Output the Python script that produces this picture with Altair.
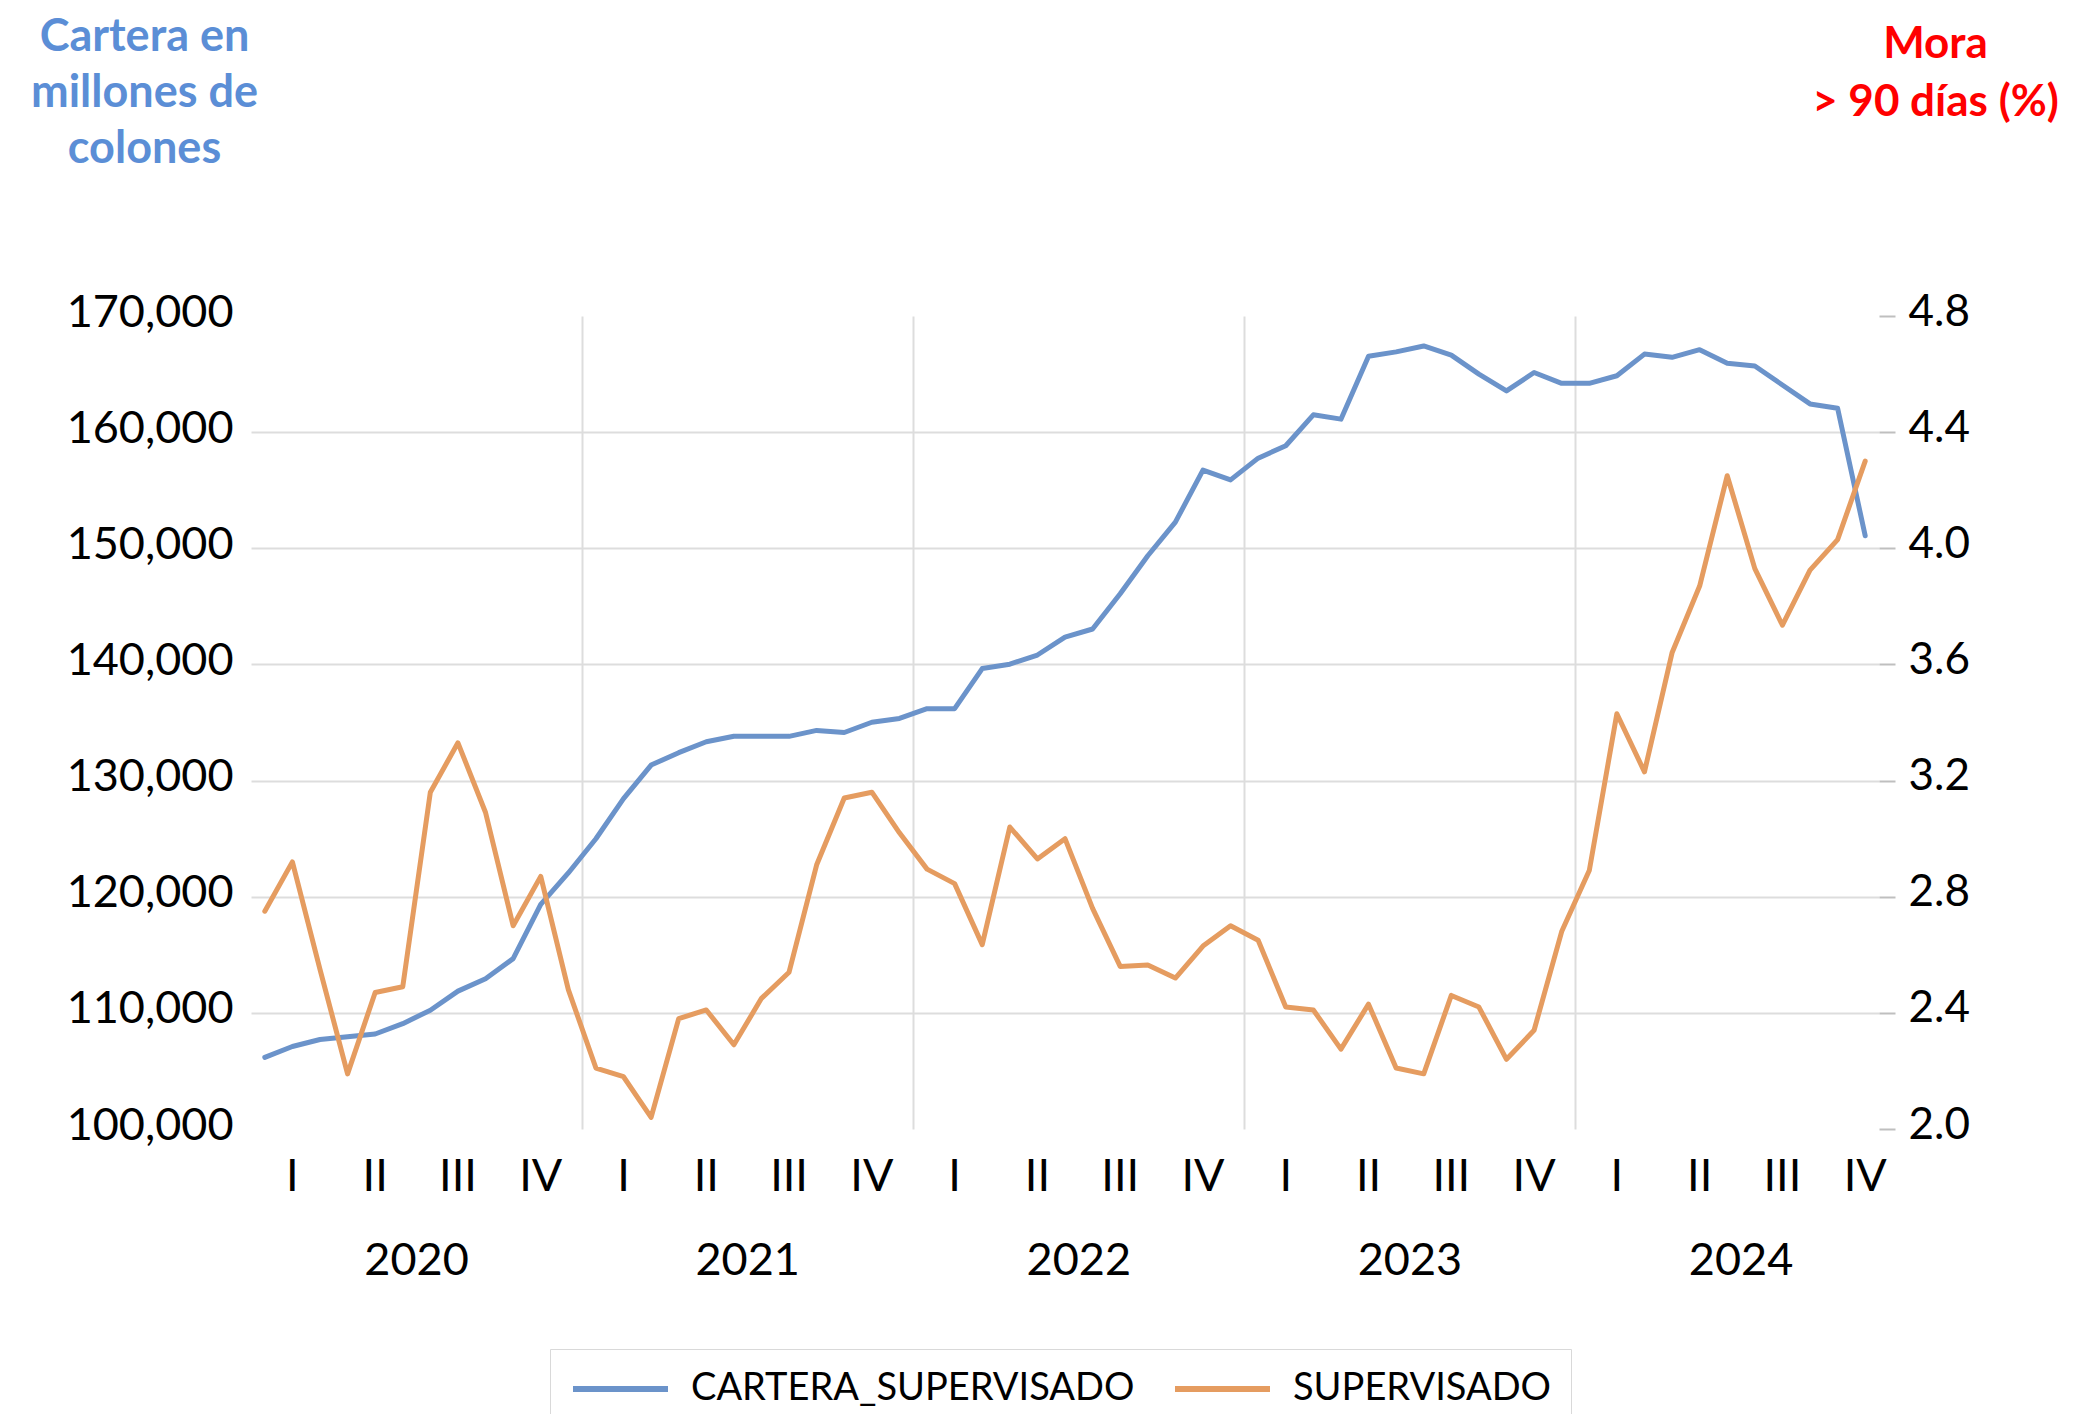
import altair as alt
import pandas as pd

# ---------------- data ----------------
series_names = ["CARTERA_SUPERVISADO", "SUPERVISADO"]
series_colors = ["#6B93CA", "#E59C60"]

# monthly values, Jan 2020 - Nov 2024
cartera = [
    106170, 107100, 107710, 107950, 108180, 109070, 110230, 111870, 112940, 114670, 119340, 122045,
    124990, 128440, 131335, 132400, 133340, 133810, 133810, 133810, 134320, 134140, 135020, 135350,
    136190, 136190, 139645, 140020, 140810, 142350, 143050, 146090, 149360, 152250, 156730, 155890,
    157760, 158830, 161490, 161120, 166540, 166910, 167420, 166630, 165000, 163550, 165135, 164200,
    164200, 164855, 166720, 166440, 167100, 165930, 165700, 164060, 162430, 162050, 151080,
]
mora = [
    2.75, 2.92, 2.55, 2.19, 2.47, 2.49, 3.16, 3.33, 3.09, 2.70, 2.87, 2.48,
    2.21, 2.18, 2.04, 2.38, 2.41, 2.29, 2.45, 2.54, 2.91, 3.14, 3.16, 3.02,
    2.895, 2.845, 2.635, 3.04, 2.93, 3.00, 2.76, 2.56, 2.565, 2.52, 2.63, 2.70,
    2.65, 2.42, 2.41, 2.275, 2.43, 2.21, 2.19, 2.46, 2.42, 2.24, 2.34, 2.68,
    2.89, 3.43, 3.23, 3.64, 3.87, 4.25, 3.93, 3.735, 3.925, 4.03, 4.30,
]
years = ["2020", "2021", "2022", "2023", "2024"]
quarters = ["I", "II", "III", "IV"]
left_ticks = [100000, 110000, 120000, 130000, 140000, 150000, 160000, 170000]
right_ticks = [2.0, 2.4, 2.8, 3.2, 3.6, 4.0, 4.4, 4.8]

n = len(cartera)
month_pos = [k + 0.5 for k in range(n)]  # centre of each monthly category

long_df = pd.DataFrame({
    "mes": month_pos * 2,
    "serie": [series_names[0]] * n + [series_names[1]] * n,
    "valor": cartera + mora,
})

q_rows = []
for yi, yr in enumerate(years):
    for qi, q in enumerate(quarters):
        q_rows.append({"pos": yi * 12 + qi * 3 + 1.5, "label": q})
q_df = pd.DataFrame(q_rows)
y_df = pd.DataFrame({"pos": [yi * 12 + 6 for yi in range(len(years))], "label": years})
sep_values = [12 * (i + 1) for i in range(len(years) - 1)]

# ---------------- styling ----------------
FONT = "Lato"
GRID = "#DDDDDD"
W, H = 1628, 813

xscale = alt.Scale(domain=[0, n], nice=False, zero=False)
xaxis = alt.Axis(values=sep_values, grid=True, gridColor=GRID, gridWidth=2,
                 labels=False, ticks=False, domain=False, title=None)

color = alt.Color(
    "serie:N",
    scale=alt.Scale(domain=series_names, range=series_colors),
    legend=alt.Legend(
        orient="none", legendX=299, legendY=1033, direction="horizontal",
        title=None, symbolType="stroke", symbolSize=9025, symbolStrokeWidth=6,
        clipHeight=40, labelFont=FONT, labelFontSize=38, labelColor="black",
        labelLimit=2000, labelOffset=20, columnPadding=37, padding=20,
        strokeColor="#D9D9D9",
    ),
)

left_axis = alt.Axis(
    values=left_ticks, format=",.0f", labelFont=FONT, labelFontSize=45,
    labelColor="black", labelPadding=18, labelOffset=-4, ticks=False, tickSize=0,
    domain=False, grid=True, gridColor=GRID, gridWidth=2,
    gridOpacity={"condition": {"test": "datum.value < 105000 || datum.value > 165000", "value": 0}, "value": 1},
    title=["Cartera en", "millones de", "colones"], titleAngle=0, titleX=-107, titleY=-266,
    titleAlign="center", titleBaseline="alphabetic", titleFont=FONT, titleFontSize=45,
    titleFontWeight="bold", titleColor="#5B8ED6", titleLineHeight=56,
)
right_axis = alt.Axis(
    orient="right", values=right_ticks, format=".1f", labelFont=FONT, labelFontSize=44,
    labelColor="black", labelPadding=13, labelOffset=-4, tickSize=16, tickColor="#BFBFBF",
    tickWidth=2, domain=False, grid=False,
    title=["Mora", "> 90 días (%)"], titleAngle=0, titleX=56, titleY=-259,
    titleAlign="center", titleBaseline="alphabetic", titleFont=FONT, titleFontSize=44,
    titleFontWeight="bold", titleColor="#FF0000", titleLineHeight=58,
)

base = alt.Chart(long_df)
blue = base.transform_filter(alt.datum.serie == series_names[0]).mark_line(
    strokeWidth=5, strokeJoin="round", strokeCap="round"
).encode(
    x=alt.X("mes:Q", scale=xscale, axis=xaxis),
    y=alt.Y("valor:Q", scale=alt.Scale(domain=[100000, 170000], nice=False, zero=False), axis=left_axis),
    color=color,
)
orange = base.transform_filter(alt.datum.serie == series_names[1]).mark_line(
    strokeWidth=5, strokeJoin="round", strokeCap="round"
).encode(
    x=alt.X("mes:Q", scale=xscale, axis=xaxis),
    y=alt.Y("valor:Q", scale=alt.Scale(domain=[2.0, 4.8], nice=False, zero=False), axis=right_axis),
    color=color,
)

q_text = alt.Chart(q_df).mark_text(font=FONT, fontSize=45, color="black", align="center", baseline="middle").encode(
    x=alt.X("pos:Q", scale=xscale, axis=xaxis),
    y=alt.value(861),
    text="label:N",
)
y_text = alt.Chart(y_df).mark_text(font=FONT, fontSize=45, color="black", align="center", baseline="middle").encode(
    x=alt.X("pos:Q", scale=xscale, axis=xaxis),
    y=alt.value(945),
    text="label:N",
)

lines = alt.layer(blue, orange).resolve_scale(y="independent")
chart = alt.layer(lines, q_text, y_text).properties(
    width=W, height=H,
    autosize=alt.AutoSizeParams(type="none"),
    padding={"left": 243, "top": 308, "right": 190, "bottom": 285},
).configure_view(strokeWidth=0)

chart.save("out.html", embed_options={"renderer": "svg", "actions": False})
